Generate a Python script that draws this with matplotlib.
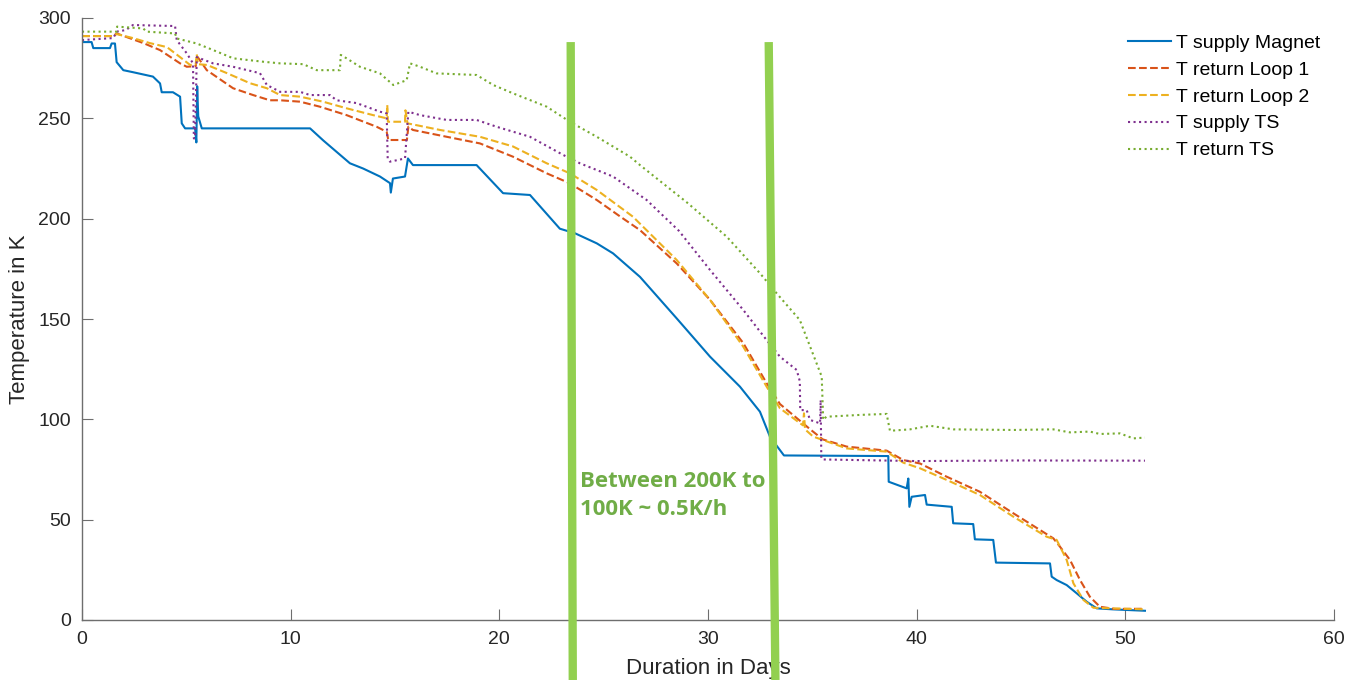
import matplotlib.pyplot as plt

# ---- data (days, Kelvin) ----
magnet_days = [0, 0.46, 0.54, 1.34, 1.42, 1.58, 1.66, 1.98, 2.44, 3.40, 3.74, 3.82, 4.36, 4.70,
               4.78, 4.94, 5.42, 5.48, 5.52, 5.57, 5.74, 10.93, 11.56, 12.84, 13.47, 14.28, 14.76,
               14.8, 14.9, 15.48, 15.62, 15.86, 18.91, 20.18, 21.47, 22.90, 23.63, 24.67, 25.45,
               26.74, 28.5, 30.1, 31.53, 32.49, 32.97, 33.64, 38.64, 38.66, 39.52, 39.6, 39.65,
               39.76, 40.4, 40.48, 41.68, 41.75, 42.71, 42.79, 43.67, 43.8, 46.39, 46.47, 46.71,
               47.19, 47.67, 48.15, 48.63, 49.41, 50.94]
magnet_temp = [288, 288, 285, 285, 287.3, 287.3, 278, 274, 273, 270.8, 267.4, 263, 263, 260.8,
               247.5, 245, 245, 238, 266, 251, 245, 245, 239, 227.6, 225, 221, 217.7,
               213, 220, 221, 230, 226.7, 226.7, 212.7, 211.8, 195, 192.7, 187.7, 182.7,
               171, 150.3, 131.2, 116.3, 103.8, 91.3, 82, 81.7, 68.9, 65.6, 70.5, 56.4,
               61.4, 62.3, 57.5, 56.4, 48.2, 47.8, 40.2, 39.9, 28.6, 28.2, 21.6, 19.9,
               17.4, 13.3, 9.1, 5.8, 5.3, 4.6]

loop1_days = [0, 1.5, 1.66, 2.94, 3.74, 4.70, 5.02, 5.45, 5.5, 5.58, 5.98, 7.24, 8.2, 9.0, 9.49,
              10.45, 11.4, 12.68, 14.12, 14.6, 14.68, 15.57, 15.64, 15.86, 17.48, 19.07, 20.65,
              22.27, 23.38, 24.67, 25.8, 26.74, 28.5, 30.1, 31.69, 32.81, 33.45, 34.9, 35.5,
              36.65, 38.56, 39.36, 40.16, 41.44, 43.03, 44.63, 46.55, 46.87, 47.35, 47.83, 48.3,
              48.78, 49.5, 50.94]
loop1_temp = [291, 291, 292.3, 287.5, 284, 277.4, 275.7, 276, 281, 280, 274, 265, 261.6, 259, 259,
              258.3, 255.8, 251.6, 245.8, 243.3, 239.2, 239.2, 245.8, 244.2, 240.8, 237.5, 230.9,
              222.6, 217.6, 209.3, 201, 194.3, 177.7, 159.5, 138, 118, 107.6, 95, 90,
              86.4, 84.4, 79.7, 78, 71.4, 63.9, 53.2, 40.7, 36.5, 29.9, 19.9, 11.6,
              6.6, 5.5, 5.6]

loop2_days = [0, 1.5, 1.66, 2.44, 3.25, 4.07, 4.7, 5.18, 5.45, 5.5, 5.55, 5.99, 6.95, 8.05, 8.86,
              9.49, 10.45, 11.55, 12.68, 13.95, 14.6, 14.63, 14.66, 15.48, 15.5, 15.6, 17.16,
              19.07, 20.65, 22.27, 23.38, 24.67, 26.4, 28.5, 30.1, 31.69, 32.81, 33.45, 34.55,
              34.6, 34.65, 35.04, 36.65, 38.56, 39.36, 40.16, 41.44, 43.03, 44.63, 46.23, 46.71,
              47.19, 47.51, 47.99, 48.47, 50.94]
loop2_temp = [291, 291, 292, 290, 287.5, 285.5, 280.5, 276.6, 277, 282, 277, 276.6, 272.5, 267.5, 265,
              261.6, 260.8, 258.3, 255, 251.6, 250, 256.6, 248.3, 248.3, 254, 247.5, 244.2,
              240.8, 236, 227.6, 222.6, 214.3, 201, 179.4, 159.5, 136.2, 116.3, 105.5, 97,
              103, 95, 91.4, 85.5, 83.9, 78.4, 75.6, 69.8, 62.3, 51.5, 41.5, 39.9,
              29.9, 18.3, 10, 6.1, 5.3]

ts_supply_days = [0, 1.5, 1.66, 2.1, 2.44, 4.46, 4.54, 4.78, 5.02, 5.32, 5.36, 5.42, 5.5, 6.28,
                  7.24, 8.53, 8.86, 9.35, 9.49, 10.45, 10.93, 11.88, 12.2, 13.16, 14.28, 14.6,
                  14.65, 14.76, 15.48, 15.64, 16.2, 17.48, 18.91, 19.87, 21.47, 23.07, 23.86,
                  25.45, 27.06, 28.6, 30.1, 31.69, 32.81, 33.45, 34.25, 34.4, 34.42, 34.73,
                  34.89, 35.37, 35.4, 35.43, 35.5, 40.0, 45.0, 50.94]
ts_supply_temp = [289, 290, 293.2, 294, 296.5, 296, 289, 285.7, 282.4, 277.4, 240, 240, 280.5, 277.4,
                  275.7, 272.5, 266.6, 264, 263.2, 263.2, 261.6, 261.6, 259, 257.6, 253.3, 252.5,
                  230, 228.4, 230, 253.3, 251.6, 249.2, 249.2, 245.8, 240.8, 231.7, 227.6,
                  221, 209.3, 194, 174.4, 154.5, 139.5, 131.2, 124.6, 119, 104.6, 104.6,
                  99.7, 98, 109.6, 80.5, 80, 79.2, 79.5, 79.4]

ts_return_days = [0, 1.66, 1.68, 2.93, 3.1, 4.46, 4.54, 5.5, 6.29, 7.25, 8.69, 9.49, 10.6, 11.25,
                  12.36, 12.4, 12.68, 13.32, 14.28, 14.92, 15.56, 15.72, 16.2, 16.99, 18.91, 19.71,
                  20.67, 22.27, 23.38, 24.67, 26.26, 26.74, 29.0, 30.9, 32.49, 33.29, 34.4, 35.45,
                  35.52, 35.67, 37.28, 38.56, 38.72, 39.68, 40.64, 41.76, 44.63, 46.55, 47.35,
                  48.3, 48.78, 49.74, 50.38, 50.94]
ts_return_temp = [293.2, 293.2, 295.7, 294.8, 293.2, 292.3, 289.8, 287.3, 284, 279.9, 278.2, 277.4, 277, 274,
                  274, 281.6, 279.9, 275.7, 272.4, 266.6, 269, 277.4, 275.7, 272.4, 271.6, 266.6,
                  262.4, 255.8, 248.3, 240.8, 230.9, 226.7, 208, 191, 172.8, 162.8, 149.5, 121.3,
                  99.7, 101.3, 102.2, 102.7, 94.3, 95, 96.8, 95, 94.7, 95, 93.5,
                  93.9, 92.7, 93, 90.5, 90.9]

labels = ['T supply Magnet', 'T return Loop 1', 'T return Loop 2', 'T supply TS', 'T return TS']
colors = ['#0072BD', '#D95319', '#EDB120', '#7E2F8E', '#77AC30']
styles = ['-', '--', '--', ':', ':']

# green marker bars (days at top / bottom) and note
bar1 = ([23.42, 23.52], [288, -29.9])
bar2 = ([32.91, 33.23], [288, -29.9])
note = 'Between 200K to\n100K ~ 0.5K/h'

plt.rcParams['font.family'] = ['Liberation Sans', 'DejaVu Sans']
fig = plt.figure(figsize=(13.45, 6.8), dpi=100)
ax = fig.add_axes([82 / 1345, 60 / 680, (1334 - 82) / 1345, (620 - 18) / 680])

series = [(magnet_days, magnet_temp), (loop1_days, loop1_temp), (loop2_days, loop2_temp),
          (ts_supply_days, ts_supply_temp), (ts_return_days, ts_return_temp)]
for (d, t), lab, c, ls in zip(series, labels, colors, styles):
    ax.plot(d, t, color=c, linestyle=ls, linewidth=1.5, label=lab)

ax.set_xlim(0, 60)
ax.set_ylim(0, 300)
ax.set_xticks(range(0, 61, 10))
ax.set_yticks(range(0, 301, 50))
for s in ['top', 'right']:
    ax.spines[s].set_visible(False)
for s in ['left', 'bottom']:
    ax.spines[s].set_color('#6e6e6e')
    ax.spines[s].set_linewidth(1.0)
ax.tick_params(direction='in', length=8, width=0.8, color='#6e6e6e',
               labelsize=14, labelcolor='#262626', pad=8)
ax.set_xlabel('Duration in Days', fontsize=16, color='#262626', labelpad=7)
ax.set_ylabel('Temperature in K', fontsize=16, color='#262626', labelpad=6)

ax.legend(loc='upper left', bbox_to_anchor=(1128 / 1345, 1 - 34 / 680),
          bbox_transform=fig.transFigure, frameon=False, fontsize=14,
          handlelength=2.2, handletextpad=0.25, labelspacing=0.48,
          borderpad=0, borderaxespad=0)

for bx, by in (bar1, bar2):
    ax.plot(bx, by, color='#92D050', linewidth=6, solid_capstyle='butt', clip_on=False, zorder=5)

ax.text(23.87, 62, note, color='#70AD47', fontsize=16, fontweight='bold',
        family=['Open Sans', 'DejaVu Sans'], ha='left', va='center', linespacing=1.45,
        zorder=6)

fig.savefig('out.png', dpi=100)
